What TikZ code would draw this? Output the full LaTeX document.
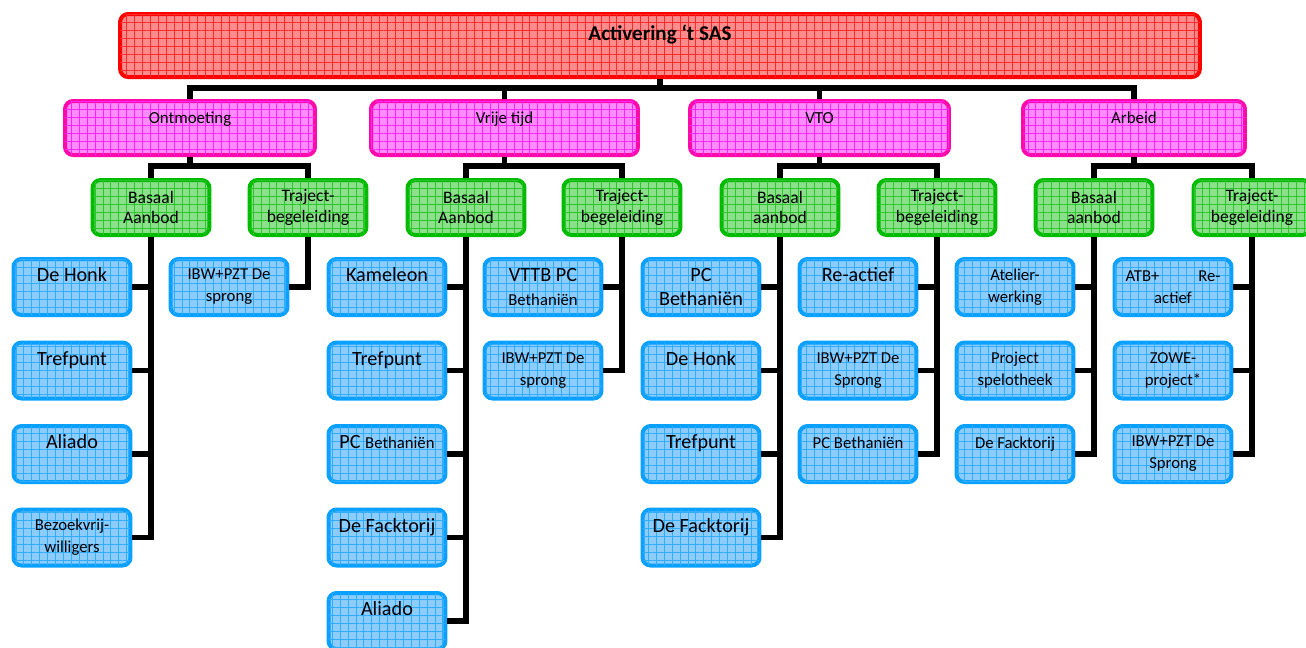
\documentclass[tikz,border=0pt]{standalone}
\usepackage{fontspec}
\setmainfont{Carlito}
\usetikzlibrary{patterns.meta}
\definecolor{rood}{HTML}{FF0000}
\definecolor{roodvul}{HTML}{FF8C8C}
\definecolor{roze}{HTML}{FF0AAA}
\definecolor{rozevul}{HTML}{FF8CFF}
\definecolor{groen}{HTML}{00BB00}
\definecolor{groenvul}{HTML}{8CE08C}
\definecolor{blauw}{HTML}{0AA0FF}
\definecolor{blauwvul}{HTML}{8CCCFF}
\newcommand\klein{\fontsize{9.5}{12.5}\selectfont}
\tikzset{rs/.style={postaction={pattern={Lines[angle=0,distance=4.5pt,line width=0.3pt]},pattern color=#1},
  postaction={pattern={Lines[angle=90,distance=4.5pt,line width=0.3pt]},pattern color=#1}}}
\tikzset{hb/.append style={draw=rood,fill=roodvul,rs=rood!70!roodvul,line width=0.08cm,rounded corners=0.16cm,
  minimum width=21.6cm,minimum height=1.26cm,align=center,font=\bfseries\fontsize{12}{14.5}\selectfont}}
\tikzset{mb/.append style={draw=roze,fill=rozevul,rs=magenta!75!rozevul,line width=0.08cm,rounded corners=0.16cm,
  minimum height=1.08cm,align=center,font=\fontsize{9.6}{11.5}\selectfont}}
\tikzset{gb/.append style={draw=groen,fill=groenvul,rs=groen!70!groenvul,line width=0.08cm,rounded corners=0.16cm,
  minimum width=2.34cm,minimum height=1.1cm,align=center,inner sep=2pt,font=\fontsize{10}{11.5}\selectfont}}
\tikzset{bb/.append style={draw=blauw,fill=blauwvul,rs=blauw!70!blauwvul,line width=0.08cm,rounded corners=0.16cm,
  minimum width=2.34cm,minimum height=1.12cm,align=center,inner sep=2pt,font=\fontsize{11.5}{14}\selectfont}}
\tikzset{kl/.style={font=\klein}}
\tikzset{ln/.append style={line width=0.11cm,draw=black}}

\begin{document}
\begin{tikzpicture}[x=0.02cm,y=-0.02cm]
\useasboundingbox (0,0) rectangle (1306,647);
% top
\node[hb] (sas) at (660,45.5) {Activering ‘t SAS\\~};
% second row
\node[mb,minimum width=5cm] (ont) at (190,128) {Ontmoeting\\~};
\node[mb,minimum width=5.34cm] (vt) at (504.5,128) {Vrije tijd\\~};
\node[mb,minimum width=5.18cm] (vto) at (819.5,128) {VTO\\~};
\node[mb,minimum width=4.44cm] (arb) at (1134,128) {Arbeid\\~};
% third row
\node[gb] (ontB) at (151,207.5) {Basaal\\Aanbod};
\node[gb] (ontT) at (308,207.5) {Traject-\\begeleiding};
\node[gb] (vtB) at (466,207.5) {Basaal\\Aanbod};
\node[gb] (vtT) at (622,207.5) {Traject-\\begeleiding};
\node[gb] (vtoB) at (780,207.5) {Basaal\\aanbod};
\node[gb] (vtoT) at (937,207.5) {Traject-\\begeleiding};
\node[gb] (arbB) at (1094,207.5) {Basaal\\aanbod};
\node[gb] (arbT) at (1252,207.5) {Traject-\\begeleiding};
% Ontmoeting
\node[bb] (o1) at (72,287) {De Honk\\~};
\node[bb] (o2) at (72,370.5) {Trefpunt\\~};
\node[bb] (o3) at (72,454) {Aliado\\~};
\node[bb,kl] (o4) at (72,537.5) {Bezoekvrij-\\willigers};
\node[bb,kl] (ot1) at (229,287) {IBW+PZT De\\sprong};
% Vrije tijd
\node[bb] (v1) at (387,287) {Kameleon\\~};
\node[bb] (v2) at (387,370.5) {Trefpunt\\~};
\node[bb] (v3) at (387,454) {PC {\klein Bethaniën}\\~};
\node[bb] (v4) at (387,537.5) {De Facktorij\\~};
\node[bb] (v5) at (387,621) {Aliado\\~};
\node[bb] (vt1) at (543,287) {VTTB PC\\{\klein Bethaniën}};
\node[bb,kl] (vt2) at (543,370.5) {IBW+PZT De\\sprong};
% VTO
\node[bb] (w1) at (701,287) {PC\\Bethaniën};
\node[bb] (w2) at (701,370.5) {De Honk\\~};
\node[bb] (w3) at (701,454) {Trefpunt\\~};
\node[bb] (w4) at (701,537.5) {De Facktorij\\~};
\node[bb] (wt1) at (858,287) {Re-actief\\~};
\node[bb,kl] (wt2) at (858,370.5) {IBW+PZT De\\Sprong};
\node[bb,kl] (wt3) at (858,454) {PC Bethaniën\\~};
% Arbeid
\node[bb,kl] (a1) at (1015,287) {Atelier-\\werking};
\node[bb,kl] (a2) at (1015,370.5) {Project\\spelotheek};
\node[bb,kl] (a3) at (1015,454) {De Facktorij\\~};
\node[bb,kl] (at1) at (1173,287) {\makebox[1.9cm]{ATB+\hfill Re-}\\actief};
\node[bb,kl] (at2) at (1173,370.5) {ZOWE-\\project*};
\node[bb,kl] (at3) at (1173,454) {IBW+PZT De\\Sprong};
% lines
\draw[ln] (sas.south) -- ++(0,9) -| (ont.north);
\draw[ln] (sas.south) -- ++(0,9) -| (vt.north);
\draw[ln] (sas.south) -- ++(0,9) -| (vto.north);
\draw[ln] (sas.south) -- ++(0,9) -| (arb.north);
\draw[ln] (ont.south) -- ++(0,9) -| (ontB.north);
\draw[ln] (ont.south) -- ++(0,9) -| (ontT.north);
\draw[ln] (vt.south) -- ++(0,9) -| (vtB.north);
\draw[ln] (vt.south) -- ++(0,9) -| (vtT.north);
\draw[ln] (vto.south) -- ++(0,9) -| (vtoB.north);
\draw[ln] (vto.south) -- ++(0,9) -| (vtoT.north);
\draw[ln] (arb.south) -- ++(0,9) -| (arbB.north);
\draw[ln] (arb.south) -- ++(0,9) -| (arbT.north);
\draw[ln] (ontB.south) |- (o1.east);
\draw[ln] (ontB.south) |- (o2.east);
\draw[ln] (ontB.south) |- (o3.east);
\draw[ln] (ontB.south) |- (o4.east);
\draw[ln] (ontT.south) |- (ot1.east);
\draw[ln] (vtB.south) |- (v1.east);
\draw[ln] (vtB.south) |- (v2.east);
\draw[ln] (vtB.south) |- (v3.east);
\draw[ln] (vtB.south) |- (v4.east);
\draw[ln] (vtB.south) |- (v5.east);
\draw[ln] (vtT.south) |- (vt1.east);
\draw[ln] (vtT.south) |- (vt2.east);
\draw[ln] (vtoB.south) |- (w1.east);
\draw[ln] (vtoB.south) |- (w2.east);
\draw[ln] (vtoB.south) |- (w3.east);
\draw[ln] (vtoB.south) |- (w4.east);
\draw[ln] (vtoT.south) |- (wt1.east);
\draw[ln] (vtoT.south) |- (wt2.east);
\draw[ln] (vtoT.south) |- (wt3.east);
\draw[ln] (arbB.south) |- (a1.east);
\draw[ln] (arbB.south) |- (a2.east);
\draw[ln] (arbB.south) |- (a3.east);
\draw[ln] (arbT.south) |- (at1.east);
\draw[ln] (arbT.south) |- (at2.east);
\draw[ln] (arbT.south) |- (at3.east);
\end{tikzpicture}
\end{document}
